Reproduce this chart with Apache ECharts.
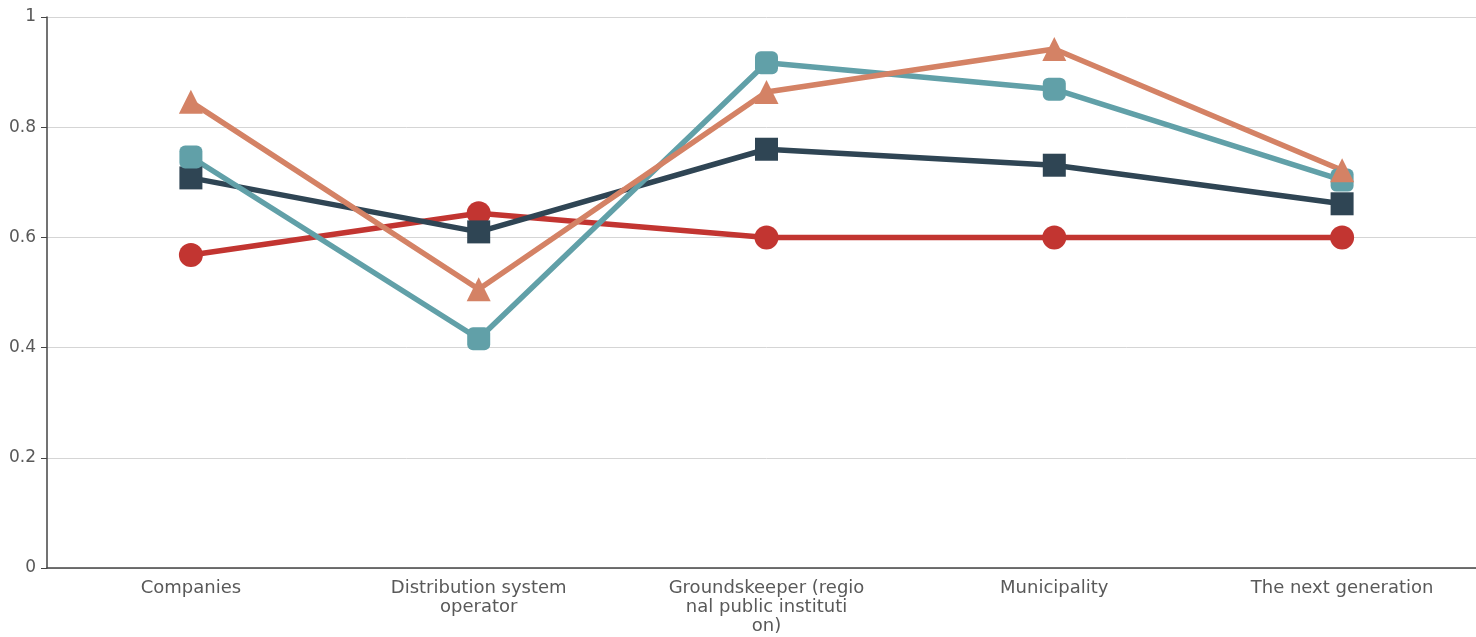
<!DOCTYPE html>
<html>
<head>
<meta charset="utf-8">
<script src="https://cdn.jsdelivr.net/npm/echarts@6/dist/echarts.min.js"></script>
<style>html,body{margin:0;padding:0;background:#fff;overflow:hidden;width:1476px;height:637px}#c{width:1486px;height:637px}</style>
</head>
<body>
<div id="c"></div>
<script>
const categories = ["Companies", "Distribution system operator", "Groundskeeper (regional public institution)", "Municipality", "The next generation"];
const seriesRed = [0.568, 0.644, 0.6, 0.6, 0.6];
const seriesDark = [0.708, 0.61, 0.76, 0.731, 0.661];
const seriesTeal = [0.746, 0.416, 0.917, 0.869, 0.704];
const seriesOrange = [0.846, 0.506, 0.864, 0.942, 0.722];
const yTicks = [0, 0.2, 0.4, 0.6, 0.8, 1];

function wrap(s) {
  const out = [];
  for (let i = 0; i < s.length; i += 20) out.push(s.slice(i, i + 20).trim());
  return out.join('\n');
}

const chart = echarts.init(document.getElementById('c'), null, {renderer: 'canvas'});
const mk = (name, data, color, symbol, size) => ({
  name, type: 'line', data, symbol, symbolSize: size,
  itemStyle: {color}, lineStyle: {color, width: 5.5},
  emphasis: {disabled: true}
});
chart.setOption({
  animation: false,
  textStyle: {fontFamily: 'DejaVu Sans'},
  grid: {left: 47, right: 0, top: 17, bottom: 69, containLabel: false},
  xAxis: {
    type: 'category', data: categories,
    axisLine: {lineStyle: {color: '#444', width: 1.5}},
    axisTick: {lineStyle: {color: '#444'}, length: 5},
    axisLabel: {color: '#595959', fontSize: 18, lineHeight: 19, margin: 11, interval: 0, formatter: wrap}
  },
  yAxis: {
    type: 'value', min: 0, max: 1, interval: 0.2,
    axisLine: {show: true, lineStyle: {color: '#444', width: 1.5}},
    axisTick: {show: true, lineStyle: {color: '#444'}, length: 6},
    axisLabel: {color: '#595959', fontSize: 17, margin: 11, formatter: v => String(Math.round(v * 10) / 10)},
    splitLine: {lineStyle: {color: '#d5d5d5', width: 1}}
  },
  series: [
    mk('red', seriesRed, '#c23531', 'circle', 24),
    mk('dark', seriesDark, '#2f4554', 'rect', 23),
    mk('teal', seriesTeal, '#61a0a8', 'roundRect', 23),
    mk('orange', seriesOrange, '#d48265', 'triangle', 24)
  ]
});
</script>
</body>
</html>
